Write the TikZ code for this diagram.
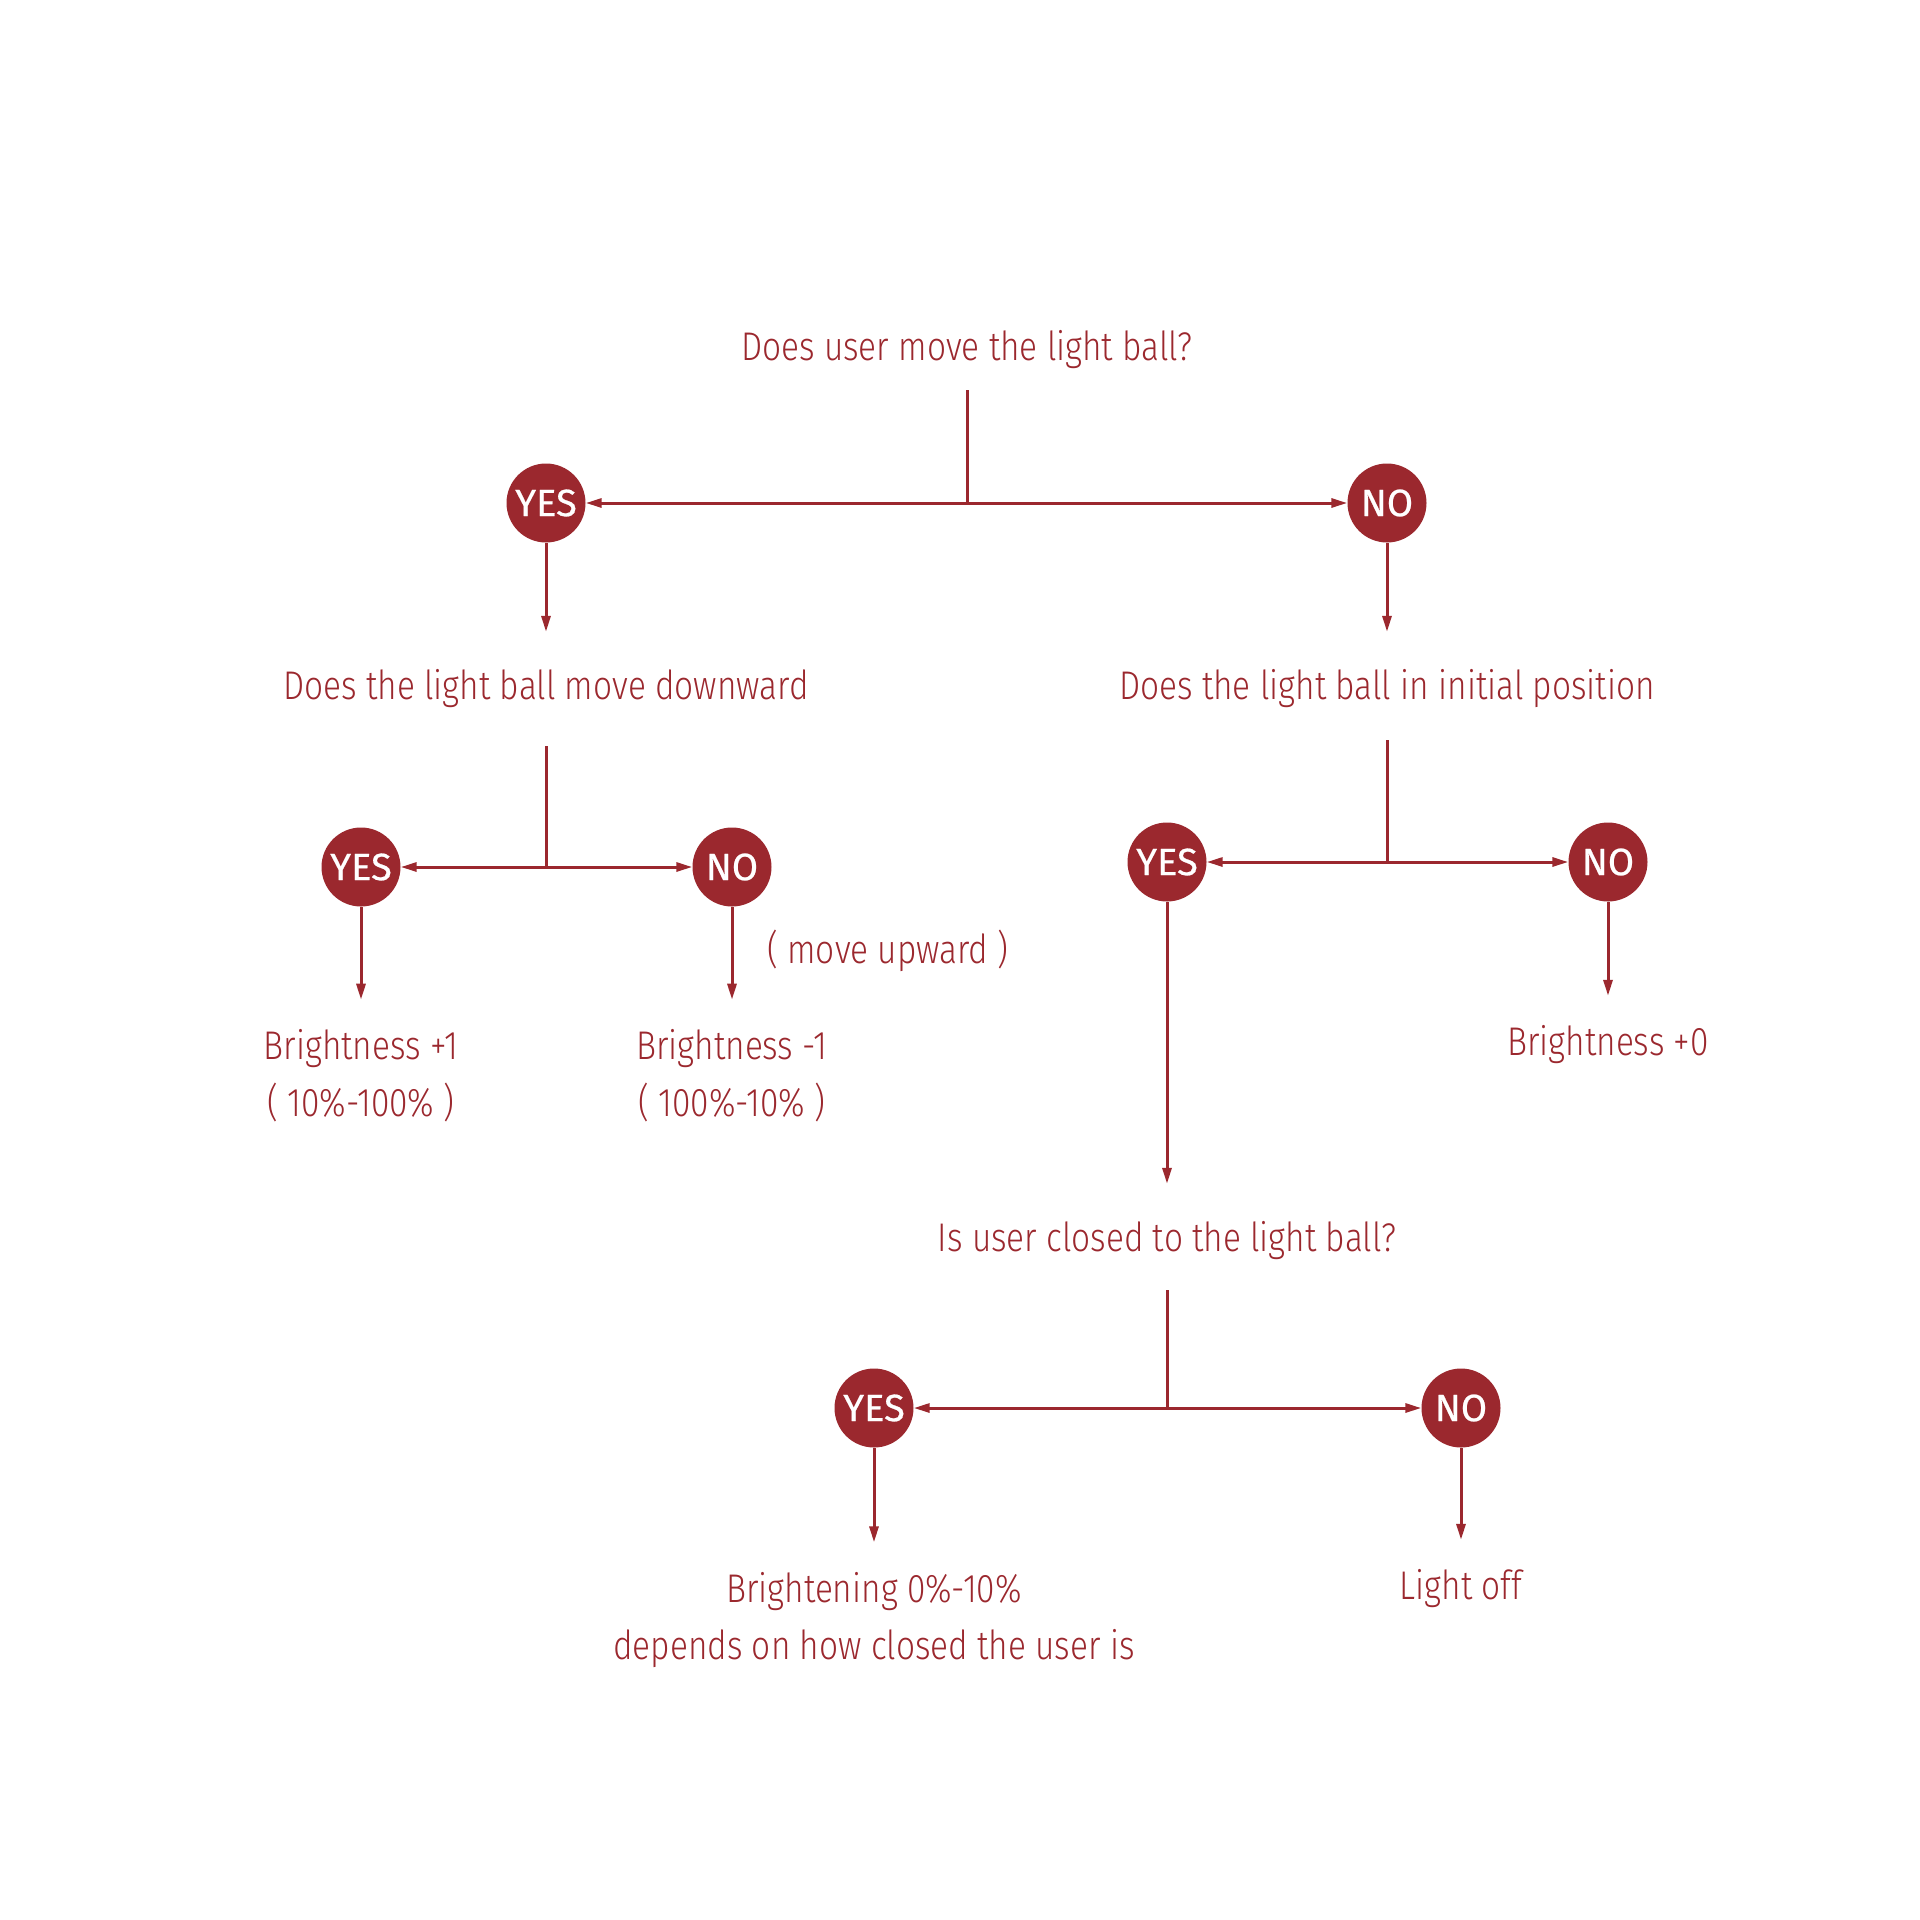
\documentclass[tikz,border=0pt]{standalone}
\usepackage{fontspec}
\usepackage{tikz}
\usetikzlibrary{shapes,arrows,positioning,arrows.meta}
\setmainfont{Fira Sans Light}[FakeStretch=0.835]
\newfontfamily\ballfont{Fira Sans}[FakeBold=0.6]
\definecolor{ballred}{RGB}{155,40,46}
\tikzstyle{question} = [text=ballred, inner sep=0pt, outer ysep=38pt, font=\fontsize{40}{57}\selectfont, align=center]
\tikzstyle{result} = [question, outer ysep=30pt]
\tikzstyle{answer} = [circle, fill=ballred, text=white, minimum size=79pt, inner sep=0pt, font=\ballfont\fontsize{38}{40}\selectfont]
\tikzstyle{line} = [draw=ballred, line width=3pt, -{Triangle[length=16pt,width=9pt]}]
\tikzstyle{stem} = [draw=ballred, line width=3pt]

\begin{document}
\begin{tikzpicture}[x=1pt,y=1pt]
	\useasboundingbox (0,0) rectangle (1920,-1920);
	\node[question](move) at (967,-350){Does user move the light ball?};
	\coordinate[below of=move, node distance=153pt](splitmove);
	\node[answer, left of=splitmove, node distance=421pt](yesmove){YES};
	\node[answer, right of=splitmove, node distance=420pt](nomove){NO};
	\node[question, below of=yesmove, node distance=186pt](downward){Does the light ball move downward};
	\node[question, below of=nomove, node distance=186pt](initial){Does the light ball in initial position};
	\coordinate[below of=downward, node distance=178pt](splitdown);
	\node[answer, left of=splitdown, node distance=185pt](yesdown){YES};
	\node[answer, right of=splitdown, node distance=186pt](nodown){NO};
	\coordinate[below of=initial, node distance=173pt](splitinit);
	\node[answer, left of=splitinit, node distance=220pt](yesinit){YES};
	\node[answer, right of=splitinit, node distance=221pt](noinit){NO};
	\node[result, below of=yesdown, node distance=209pt](brighter){Brightness +1\\( 10\%-100\% )};
	\node[result, below of=nodown, node distance=209pt](dimmer){Brightness -1\\( 100\%-10\% )};
	\node[result](upward) at ([shift={(156,-84)}]nodown){( move upward )};
	\node[result, below of=noinit, node distance=183pt](steady){Brightness +0};
	\node[question, below of=yesinit, node distance=379pt](close){Is user closed to the light ball?};
	\coordinate[below of=close, node distance=167pt](splitclose);
	\node[answer, left of=splitclose, node distance=293pt](yesclose){YES};
	\node[answer, right of=splitclose, node distance=294pt](noclose){NO};
	\node[result, below of=yesclose, node distance=212pt](closer){Brightening 0\%-10\%\\depends on how closed the user is};
	\node[result, below of=noclose, node distance=181pt](off){Light off};

	\path[stem, shorten <=-17pt](move) -- (splitmove);
	\path[line](splitmove) -- (yesmove);
	\path[line](splitmove) -- (nomove);
	\path[line](yesmove)   -- (downward);
	\path[line](nomove)    -- (initial);
	\path[stem](downward)  -- (splitdown);
	\path[line](splitdown) -- (yesdown);
	\path[line](splitdown) -- (nodown);
	\path[stem, shorten <=-6pt](initial) -- (splitinit);
	\path[line](splitinit) -- (yesinit);
	\path[line](splitinit) -- (noinit);
	\path[line](yesdown)   -- (brighter);
	\path[line](nodown)    -- (dimmer);
	\path[line](noinit)    -- (steady);
	\path[line](yesinit)   -- (close);
	\path[stem, shorten <=-8pt](close) -- (splitclose);
	\path[line](splitclose) -- (yesclose);
	\path[line](splitclose) -- (noclose);
	\path[line](yesclose)  -- (closer);
	\path[line](noclose)   -- (off);
\end{tikzpicture}
\end{document}
